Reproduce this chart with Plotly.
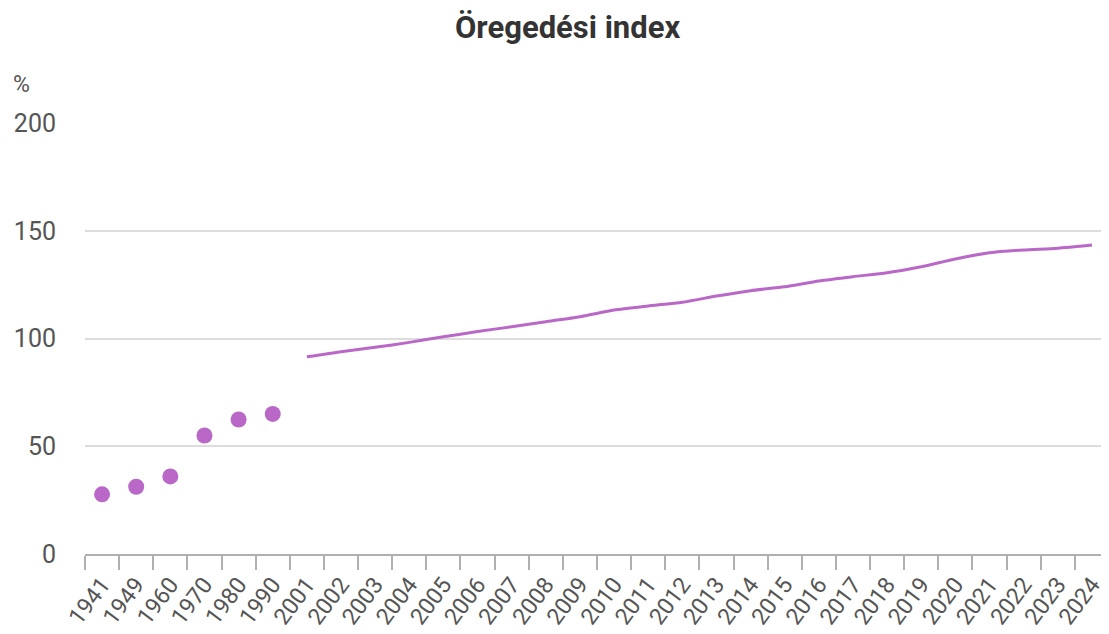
import plotly.graph_objects as go

census_years = ["1941", "1949", "1960", "1970", "1980", "1990"]
census_values = [27.7, 31.2, 36.0, 55.0, 62.4, 65.0]

annual_years = [str(y) for y in range(2001, 2025)]
annual_values = [91.5, 93.9, 95.9, 98.2, 100.8, 103.2, 105.5, 107.8, 110.1, 113.2,
                 115.1, 116.8, 119.7, 122.2, 124.0, 126.7, 128.7, 130.5, 133.3, 136.9,
                 139.8, 141.1, 141.9, 143.4]

categories = census_years + annual_years
color = "#BA68C8"

W, H = 1101, 626
L, T, B = 77, 115, 80
PW, PH = W - L, H - T - B

fig = go.Figure()
fig.add_trace(go.Scatter(x=census_years, y=census_values, mode="markers",
                         marker=dict(size=16, color=color), showlegend=False,
                         hoverinfo="x+y"))
fig.add_trace(go.Scatter(x=annual_years, y=annual_values, mode="lines",
                         line=dict(color=color, width=3, shape="spline", smoothing=0.6),
                         showlegend=False, hoverinfo="x+y"))

fig.update_layout(
    width=W, height=H,
    margin=dict(l=L, r=0, t=T, b=B, autoexpand=False),
    paper_bgcolor="white", plot_bgcolor="white",
    font=dict(family="Roboto", size=24, color="#555555"),
    xaxis=dict(type="category", categoryorder="array", categoryarray=categories,
               range=[-0.5, len(categories) - 0.5], tickson="boundaries",
               ticks="outside", ticklen=14, tickcolor="#b0b0b0", tickwidth=2,
               showline=True, linecolor="#b0b0b0", linewidth=2, automargin=False,
               showgrid=False, tickangle=-53, tickfont=dict(size=23, color="#555555"),
               ticklabelstandoff=6, fixedrange=True),
    yaxis=dict(range=[0, 200], tickvals=[0, 50, 100, 150, 200], automargin=False,
               showgrid=True, gridcolor="#dddddd", gridwidth=1.5,
               zeroline=False, ticks="", ticklabelstandoff=28,
               tickfont=dict(size=25, color="#555555"), fixedrange=True),
    annotations=[
        dict(text="Öregedési index", xref="paper", yref="paper",
             x=(567 - 8 - L) / PW, y=1 + (123 - 28) / PH, xanchor="center", yanchor="middle",
             showarrow=False, font=dict(family="Roboto", size=31, color="#333333", weight=700)),
        dict(text="%", xref="paper", yref="paper",
             x=(11 - 8 - L) / PW, y=1 + (123 - 84) / PH, xanchor="left", yanchor="middle",
             showarrow=False, font=dict(family="Roboto", size=23, color="#555555")),
    ],
)

fig.write_html("out.html")
